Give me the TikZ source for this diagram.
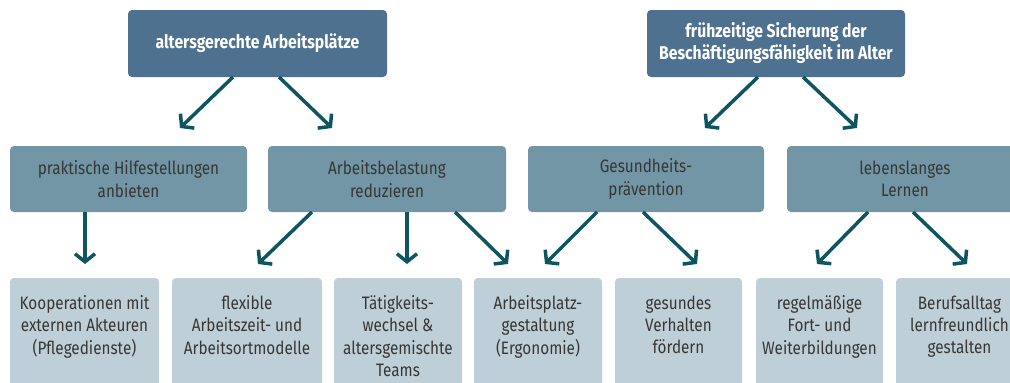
\documentclass[tikz,border=0pt]{standalone}
\usepackage{fontspec}
\setmainfont{Fira Sans}[FakeStretch=0.85]
\usetikzlibrary{arrows.meta}
\definecolor{topc}{HTML}{4E7190}
\definecolor{midc}{HTML}{7296A6}
\definecolor{lowc}{HTML}{BFCFD8}
\definecolor{arrc}{HTML}{0E5561}
\definecolor{txtc}{HTML}{363636}
\tikzset{
  topbox/.style={fill=topc, rounded corners=4pt, draw=none},
  midbox/.style={fill=midc, rounded corners=4pt, draw=none},
  lowbox/.style={fill=lowc, rounded corners=4pt, draw=none},
  toptext/.style={text=white, font=\fontsize{18.5}{22}\selectfont\bfseries, align=center},
  midtext/.style={text=txtc, font=\fontsize{18}{22.3}\selectfont, align=center},
  arr/.style={draw=arrc, line width=3.5pt, -{Straight Barb[length=8pt,width=20pt,line width=3.5pt]}},
}
\begin{document}
\begin{tikzpicture}[x=1pt,y=-1pt]
\useasboundingbox (0,0) rectangle (1010,383);
\clip (0,0) rectangle (1010,383);
% top boxes
\path[topbox] (128,10) rectangle (387,77);
\node[toptext] (t1) at (257.5,43.5) {altersgerechte Arbeitsplätze};
\path[topbox] (647,10) rectangle (905,77);
\node[toptext] (t2) at (776,43.5) {frühzeitige Sicherung der\\Beschäftigungsfähigkeit im Alter};
% mid boxes
\path[midbox] (10,146) rectangle (247,212);
\node[midtext] (m1) at (128.5,179) {praktische Hilfestellungen\\anbieten};
\path[midbox] (268,146) rectangle (506,212);
\node[midtext] (m2) at (387,179) {Arbeitsbelastung\\reduzieren};
\path[midbox] (528,146) rectangle (764,212);
\node[midtext] (m3) at (646,179) {Gesundheits-\\prävention};
\path[midbox] (787,146) rectangle (1023,212);
\node[midtext] (m4) at (905,179) {lebenslanges\\Lernen};
% low boxes
\path[lowbox] (10,278) rectangle (159,400);
\node[midtext, anchor=north] (l1) at (84.5,292) {Kooperationen mit\\externen Akteuren\\(Pflegedienste)};
\path[lowbox] (172,278) rectangle (322,400);
\node[midtext, anchor=north] (l2) at (247,292) {flexible\\Arbeitszeit- und\\Arbeitsortmodelle};
\path[lowbox] (334,278) rectangle (462,400);
\node[midtext, anchor=north] (l3) at (398,292) {Tätigkeits-\\wechsel \&\\altersgemischte\\Teams};
\path[lowbox] (474,278) rectangle (602,400);
\node[midtext, anchor=north] (l4) at (538,292) {Arbeitsplatz-\\gestaltung\\(Ergonomie)};
\path[lowbox] (615,278) rectangle (742,400);
\node[midtext, anchor=north] (l5) at (678.5,292) {gesundes\\Verhalten\\fördern};
\path[lowbox] (756,278) rectangle (883,400);
\node[midtext, anchor=north] (l6) at (819.5,292) {regelmäßige\\Fort- und\\Weiterbildungen};
\path[lowbox] (896,278) rectangle (1023,400);
\node[midtext, anchor=north] (l7) at (959.5,292) {Berufsalltag\\lernfreundlich\\gestalten};
% arrows
\coordinate (a1s) at (233,77);  \coordinate (a1e) at (180,128);
\coordinate (a2s) at (279,77);  \coordinate (a2e) at (332,128);
\coordinate (a3s) at (758,77);  \coordinate (a3e) at (705,128);
\coordinate (a4s) at (803,77);  \coordinate (a4e) at (857,128);
\draw[arr] (a1s) -- (a1e);
\draw[arr] (a2s) -- (a2e);
\draw[arr] (a3s) -- (a3e);
\draw[arr] (a4s) -- (a4e);
\coordinate (b1s) at (85,212);  \coordinate (b1e) at (85,264);
\coordinate (b2s) at (312,212); \coordinate (b2e) at (258,264);
\coordinate (b3s) at (407,212); \coordinate (b3e) at (407,264);
\coordinate (b4s) at (455,212); \coordinate (b4e) at (508,264);
\coordinate (b5s) at (597,212); \coordinate (b5e) at (545,264);
\coordinate (b6s) at (643,212); \coordinate (b6e) at (697,264);
\coordinate (b7s) at (868,212); \coordinate (b7e) at (817,264);
\coordinate (b8s) at (913,212); \coordinate (b8e) at (967,264);
\foreach \i in {1,...,8} {\draw[arr] (b\i s) -- (b\i e);}
\end{tikzpicture}
\end{document}
